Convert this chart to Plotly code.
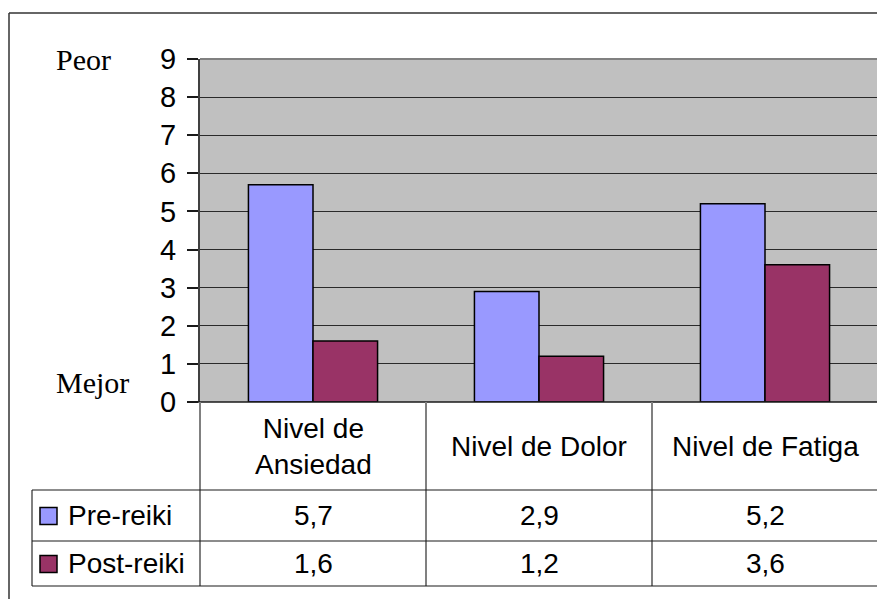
import plotly.graph_objects as go

# ---- data ----
categories = ["Nivel de Ansiedad", "Nivel de Dolor", "Nivel de Fatiga"]
header_labels = ["Nivel de<br>Ansiedad", "Nivel de Dolor", "Nivel de Fatiga"]
series_names = ["Pre-reiki", "Post-reiki"]
pre_reiki = [5.7, 2.9, 5.2]
post_reiki = [1.6, 1.2, 3.6]
y_ticks = [0, 1, 2, 3, 4, 5, 6, 7, 8, 9]
colors = ["#9999FF", "#993366"]

# the page body adds an 8px offset; the figure fills the rest of the window
OFF = 8
W, H = 885 - OFF, 599 - OFF


def px(x):
    return (x - OFF) / W


def py(y):
    return 1 - (y - OFF) / H


SANS = "Liberation Sans, Arial, sans-serif"
SERIF = "Liberation Serif, Times New Roman, serif"

fig = go.Figure()
for name, vals, col in zip(series_names, [pre_reiki, post_reiki], colors):
    fig.add_trace(go.Bar(
        x=categories, y=vals, name=name,
        marker=dict(color=col, line=dict(color="#000000", width=1.5)),
    ))

PLOT_L, PLOT_R, PLOT_T, PLOT_B = 200, 878, 59, 402

fig.update_layout(
    template="none",
    width=W, height=H,
    autosize=False,
    margin=dict(l=0, r=0, t=0, b=0, pad=0),
    paper_bgcolor="white",
    plot_bgcolor="#C0C0C0",
    showlegend=False,
    barmode="group",
    bargap=1.5 / 3.5,
    bargroupgap=0,
    xaxis=dict(
        domain=[px(PLOT_L), px(PLOT_R)],
        showticklabels=False, ticks="",
        showline=False, showgrid=False, zeroline=False,
        automargin=False,
        fixedrange=True,
    ),
    yaxis=dict(
        domain=[py(PLOT_B), py(PLOT_T)],
        range=[0, 9],
        tickvals=y_ticks,
        ticktext=[str(v) for v in y_ticks],
        ticks="outside", ticklen=11, tickwidth=1.5, tickcolor="#1a1a1a",
        ticklabelstandoff=5,
        tickfont=dict(family=SANS, size=29, color="#000000"),
        showgrid=True, gridcolor="#2a2a2a", gridwidth=1.2,
        showline=True, linecolor="#404040", linewidth=2,
        zeroline=False,
        automargin=False,
        fixedrange=True,
    ),
)

shapes = []
# plot area border (top/right gray)
shapes.append(dict(type="line", xref="paper", yref="paper",
                   x0=px(PLOT_L), x1=px(PLOT_R), y0=py(PLOT_T), y1=py(PLOT_T),
                   line=dict(color="#808080", width=2)))
shapes.append(dict(type="line", xref="paper", yref="paper",
                   x0=px(PLOT_R), x1=px(PLOT_R), y0=py(PLOT_T), y1=py(PLOT_B),
                   line=dict(color="#808080", width=2)))
# plot bottom line (y=0)
shapes.append(dict(type="line", xref="paper", yref="paper",
                   x0=px(190), x1=px(PLOT_R), y0=py(PLOT_B), y1=py(PLOT_B),
                   line=dict(color="#1a1a1a", width=1.5)))

# outer chart border (left and top visible)
shapes.append(dict(type="line", xref="paper", yref="paper",
                   x0=px(9), x1=px(9), y0=py(13), y1=py(605),
                   line=dict(color="#333333", width=1.5)))
shapes.append(dict(type="line", xref="paper", yref="paper",
                   x0=px(9), x1=px(890), y0=py(13), y1=py(13),
                   line=dict(color="#333333", width=1.5)))

# data table grid
ROW_HDR_B, ROW1_B, ROW2_B = 490, 541, 586
TABLE_L = 32
for xv in [PLOT_L, 426, 652, PLOT_R]:
    shapes.append(dict(type="line", xref="paper", yref="paper",
                       x0=px(xv), x1=px(xv), y0=py(PLOT_B), y1=py(ROW2_B),
                       line=dict(color="#808080", width=2)))
shapes.append(dict(type="line", xref="paper", yref="paper",
                   x0=px(TABLE_L), x1=px(TABLE_L), y0=py(ROW_HDR_B), y1=py(ROW2_B),
                   line=dict(color="#808080", width=2)))
for yv in [ROW_HDR_B, ROW1_B, ROW2_B]:
    shapes.append(dict(type="line", xref="paper", yref="paper",
                       x0=px(TABLE_L), x1=px(PLOT_R), y0=py(yv), y1=py(yv),
                       line=dict(color="#1a1a1a", width=1.2)))

# legend keys in table
row_centers = [(ROW_HDR_B + ROW1_B) / 2, (ROW1_B + ROW2_B) / 2]
for rc, col in zip(row_centers, colors):
    shapes.append(dict(type="rect", xref="paper", yref="paper",
                       x0=px(40), x1=px(57), y0=py(rc - 8), y1=py(rc + 9),
                       fillcolor=col, line=dict(color="#000000", width=1.5)))

annotations = []
# header labels (categories)
for cat, lab in zip(categories, header_labels):
    annotations.append(dict(x=cat, xref="x", y=py((PLOT_B + ROW_HDR_B) / 2), yref="paper",
                            text=lab, showarrow=False, xanchor="center", yanchor="middle",
                            font=dict(family=SANS, size=28, color="#000000")))
# series names + values
for rc, name, vals in zip(row_centers, series_names, [pre_reiki, post_reiki]):
    annotations.append(dict(x=px(66), xref="paper", y=py(rc), yref="paper",
                            text=name, showarrow=False, xanchor="left", yanchor="middle",
                            font=dict(family=SANS, size=28, color="#000000")))
    for cat, v in zip(categories, vals):
        annotations.append(dict(x=cat, xref="x", y=py(rc), yref="paper",
                                text=f"{v:.1f}".replace(".", ","), showarrow=False,
                                xanchor="center", yanchor="middle",
                                font=dict(family=SANS, size=28, color="#000000")))

# Peor / Mejor labels
annotations.append(dict(x=px(83), xref="paper", y=9, yref="y", text="Peor",
                        showarrow=False, xanchor="center", yanchor="middle",
                        font=dict(family=SERIF, size=30, color="#000000")))
annotations.append(dict(x=px(92), xref="paper", y=0.5, yref="y", text="Mejor",
                        showarrow=False, xanchor="center", yanchor="middle",
                        font=dict(family=SERIF, size=30, color="#000000")))

fig.update_layout(shapes=shapes, annotations=annotations)

fig.write_html("out.html", config={"displayModeBar": False})
